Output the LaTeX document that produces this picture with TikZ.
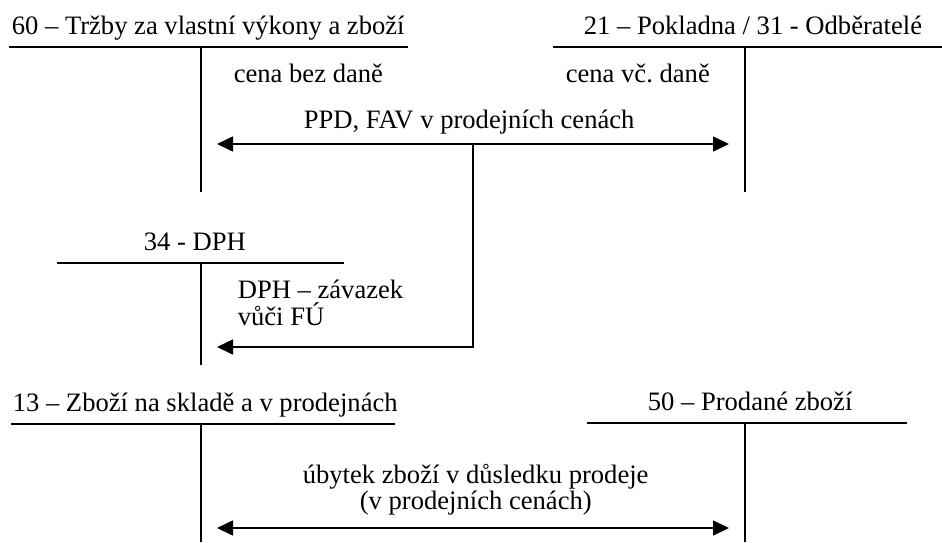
\documentclass[tikz,border=0pt]{standalone}
\usepackage{fontspec}
\setmainfont{Liberation Serif}
\usetikzlibrary{arrows.meta}
\frenchspacing

\begin{document}
\begin{tikzpicture}[x=1pt, y=-1pt, line width=1.6pt,
  txt/.style={anchor=base west, inner sep=0pt, font=\fontsize{26.6}{30}\selectfont},
  acct/.style={line width=1.6pt},
  flow/.style={-{Triangle[length=16pt, width=15pt]}},
  flowboth/.style={{Triangle[length=16pt, width=15pt]}-{Triangle[length=16pt, width=15pt]}}]
\useasboundingbox (0,0) rectangle (942,542);

% account titles
\node[txt] (t60) at (11,34) {60 – Tržby za vlastní výkony a zboží};
\node[txt] (t21) at (583,34) {21 – Pokladna / 31 - Odběratelé};
\node[txt] (t34) at (143,250) {34 - DPH};
\node[txt] (t13) at (12,411) {13 – Zboží na skladě a v prodejnách};
\node[txt] (t50) at (647,410) {50 – Prodané zboží};

% T-accounts: horizontal bar and centre post
\coordinate (a60l) at (9,47);   \coordinate (a60r) at (408,47);
\coordinate (a60t) at (201,47); \coordinate (a60b) at (201,192);
\coordinate (a21l) at (553,47); \coordinate (a21r) at (942,47);
\coordinate (a21t) at (745,47); \coordinate (a21b) at (745,192);
\coordinate (a34l) at (57,263); \coordinate (a34r) at (344,263);
\coordinate (a34t) at (201,263); \coordinate (a34b) at (201,365);
\coordinate (a13l) at (11,424); \coordinate (a13r) at (395,424);
\coordinate (a13t) at (201,424); \coordinate (a13b) at (201,542);
\coordinate (a50l) at (587,423); \coordinate (a50r) at (907,423);
\coordinate (a50t) at (745,423); \coordinate (a50b) at (745,542);

\foreach \a in {a60,a21,a34,a13,a50} {
  \draw[acct] (\a l) -- (\a r);
  \draw[acct] (\a t) -- (\a b);
}

% labels of the postings
\node[txt] (c1) at (233,82) {cena bez daně};
\node[txt] (c2) at (565,82) {cena vč. daně};
\node[txt] (p1) at (303,128) {PPD, FAV v prodejních cenách};
\node[txt] (d1) at (237,298) {DPH – závazek};
\node[txt] (d2) at (237,325) {vůči FÚ};
\node[txt] (u1) at (302,483) {úbytek zboží v důsledku prodeje};
\node[txt] (u2) at (359,509) {(v prodejních cenách)};

% postings
\coordinate (s60) at (217,144);
\coordinate (s21) at (729,144);
\coordinate (split) at (473,144);
\coordinate (bend) at (473,347);
\coordinate (s34) at (217,347);
\coordinate (s13) at (217,528);
\coordinate (s50) at (729,528);

\draw[flowboth] (s60) -- (s21);
\draw[flow] (split) -- (bend) -- (s34);
\draw[flowboth] (s13) -- (s50);
\end{tikzpicture}
\end{document}
